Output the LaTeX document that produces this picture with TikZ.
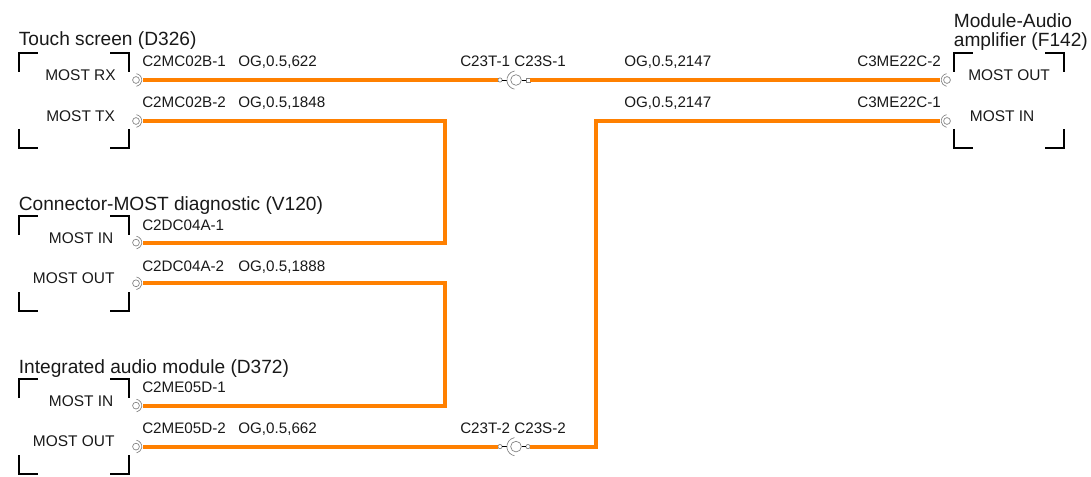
\documentclass[tikz,border=0pt]{standalone}
\usepackage{fontspec}
\setmainfont{Liberation Sans}
\definecolor{wireorange}{HTML}{FF8000}
\definecolor{pingray}{HTML}{808080}
\tikzset{
  x=0.75pt,y=-0.75pt,
  title/.style={anchor=base west,inner sep=0pt,font=\fontsize{14.35pt}{16pt}\selectfont,text=black!90},
  pinname/.style={anchor=base west,inner sep=0pt,font=\fontsize{11.6pt}{13pt}\selectfont,text=black!90},
  wirelabel/.style={anchor=base west,inner sep=0pt,font=\fontsize{11.4pt}{13pt}\selectfont,text=black!90},
  bracket/.style={draw=black,line width=1.5pt,line cap=butt},
  wire/.style={draw=wireorange,line width=3pt,line join=miter},
  pinnode/.style={circle,draw=none,inner sep=0pt,minimum size=9pt},
  pinring/.style={draw=pingray,line width=0.5pt},
  stub/.style={draw=black,line width=0.7pt},
  tinyend/.style={circle,draw=pingray,fill=white,line width=0.5pt,inner sep=0pt,minimum size=3.2pt},
  tinysq/.style={rectangle,draw=pingray,fill=white,line width=0.5pt,inner sep=0pt,minimum size=3pt},
  hub/.style={circle,draw=pingray,fill=white,line width=0.5pt,inner sep=0pt,minimum size=8pt},
}
% corner brackets of a device box: left, top, right, bottom
\newcommand{\devbox}[4]{%
  \draw[bracket] (#1,#2+19)--(#1,#2)--(#1+19,#2);
  \draw[bracket] (#3-19,#2)--(#3,#2)--(#3,#2+19);
  \draw[bracket] (#1,#4-19)--(#1,#4)--(#1+19,#4);
  \draw[bracket] (#3-19,#4)--(#3,#4)--(#3,#4-19);
}
% pin with its arc opening towards the box (y axis points down, so angles run clockwise on screen)
\newcommand{\pinR}[3]{%
  \node[pinnode] (#1) at (#2,#3) {};
  \draw[pinring] (#2-1,#3) circle[radius=3.4];
  \draw[pinring] (#2-0.5,#3-6.3) arc[start angle=-80,end angle=80,radius=6.4];
}
\newcommand{\pinL}[3]{%
  \node[pinnode] (#1) at (#2,#3) {};
  \draw[pinring] (#2+1,#3) circle[radius=3.4];
  \draw[pinring] (#2+0.5,#3-6.3) arc[start angle=260,end angle=100,radius=6.4];
}
% in-line junction
\newcommand{\junction}[4]{% name, centre x, y, right end style
  \node[tinyend] (#1a) at (#2-16,#3) {};
  \node[#4] (#1b) at (#2+12,#3) {};
  \node[hub] (#1c) at (#2,#3) {};
  \draw[stub] (#1a)--(#2-9,#3);
  \draw[stub] (#1c)--(#1b);
  \draw[pinring] (#2-1.5,#3-9) arc[start angle=260,end angle=100,radius=9.2];
}
\begin{document}
\begin{tikzpicture}
\useasboundingbox (0,0) rectangle (1091,477);
% device boxes
\devbox{19}{53}{129}{148}
\devbox{19}{216}{129}{311}
\devbox{19}{379}{129}{474}
\devbox{954}{53}{1064}{148}
% pins
\pinR{p1}{137}{80}
\pinR{p2}{137}{121}
\pinR{p3}{137}{242.6}
\pinR{p4}{137}{283.3}
\pinR{p5}{137}{405.6}
\pinR{p6}{137}{446.6}
\pinL{p7}{946}{80}
\pinL{p8}{946}{121}
\junction{ja}{516}{80}{tinysq}
\junction{jb}{516}{446.6}{tinyend}
% wires
\coordinate (c1) at (444.7,121);
\coordinate (c2) at (444.7,242.6);
\coordinate (c3) at (444.7,283.3);
\coordinate (c4) at (444.7,405.6);
\coordinate (c5) at (596,446.6);
\coordinate (c6) at (596,121);
\draw[wire] (p1.east)--(jaa.west);
\draw[wire] (jab.east)--(p7.west);
\draw[wire] (p2.east)--(c1)--(c2)--(p3.east);
\draw[wire] (p4.east)--(c3)--(c4)--(p5.east);
\draw[wire] (p6.east)--(jba.west);
\draw[wire] (jbb.east)--(c5)--(c6)--(p8.west);
% titles
\node[title] (t1) at (18.6,45.8) {Touch screen (D326)};
\node[title] (t2) at (18.6,210.3) {Connector-MOST diagnostic (V120)};
\node[title] (t3) at (18.6,373.3) {Integrated audio module (D372)};
\node[title] (t4) at (953.6,27.8) {Module-Audio};
\node[title] (t5) at (953.6,47) {amplifier (F142)};
% pin names
\node[pinname] (n1) at (45,81) {MOST RX};
\node[pinname] (n2) at (46,122) {MOST TX};
\node[pinname] (n3) at (48.6,243.2) {MOST IN};
\node[pinname] (n4) at (32.6,283) {MOST OUT};
\node[pinname] (n5) at (48.6,406) {MOST IN};
\node[pinname] (n6) at (32.6,446) {MOST OUT};
\node[pinname] (n7) at (968,81) {MOST OUT};
\node[pinname] (n8) at (969.6,122) {MOST IN};
% wire labels
\node[wirelabel] (l1) at (142,67) {C2MC02B-1};
\node[wirelabel] (l2) at (238,67) {OG,0.5,622};
\node[wirelabel] (l3) at (460,67) {C23T-1 C23S-1};
\node[wirelabel] (l4) at (624,67) {OG,0.5,2147};
\node[wirelabel] (l5) at (857,67) {C3ME22C-2};
\node[wirelabel] (l6) at (142,108) {C2MC02B-2};
\node[wirelabel] (l7) at (238,108) {OG,0.5,1848};
\node[wirelabel] (l8) at (624,108) {OG,0.5,2147};
\node[wirelabel] (l9) at (857,108) {C3ME22C-1};
\node[wirelabel] (l10) at (142,230) {C2DC04A-1};
\node[wirelabel] (l11) at (142,271) {C2DC04A-2};
\node[wirelabel] (l12) at (238,271) {OG,0.5,1888};
\node[wirelabel] (l13) at (142,392) {C2ME05D-1};
\node[wirelabel] (l14) at (142,433) {C2ME05D-2};
\node[wirelabel] (l15) at (238,433) {OG,0.5,662};
\node[wirelabel] (l16) at (460,433) {C23T-2 C23S-2};
\end{tikzpicture}
\end{document}
